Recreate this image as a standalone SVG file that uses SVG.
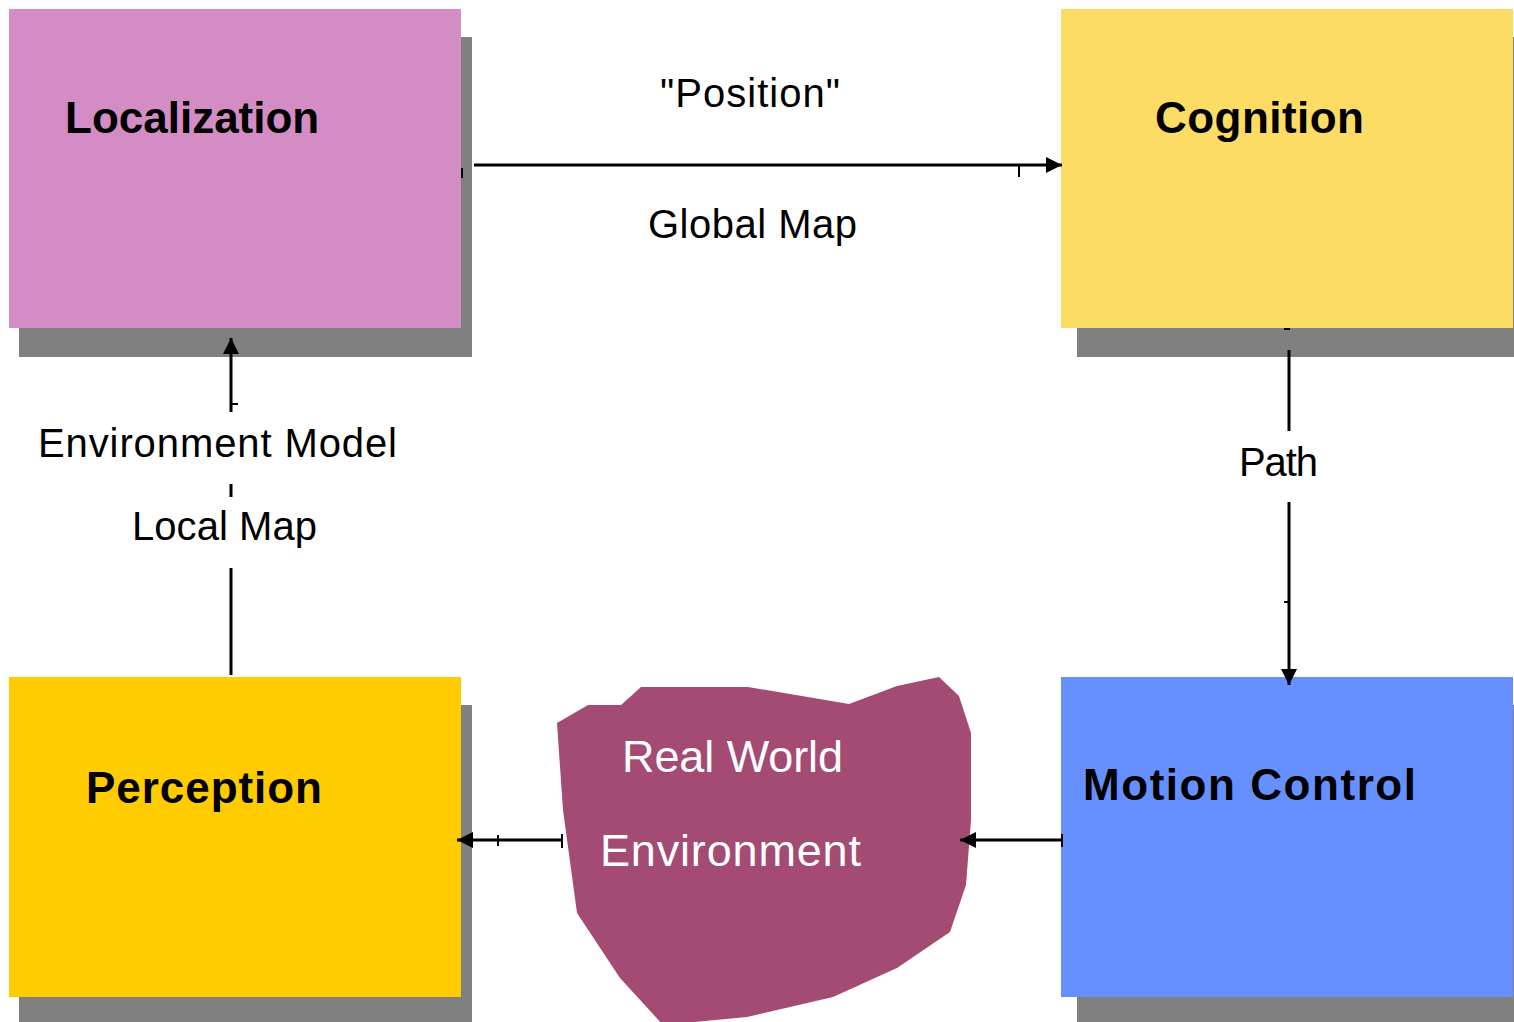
<svg xmlns="http://www.w3.org/2000/svg" width="1514" height="1022" viewBox="0 0 1514 1022">
  <style>
    .shadow { fill: #808080; }
    .title { font-family: "Liberation Sans", Arial, sans-serif; font-weight: bold; font-size: 44px; fill: #000; }
    .label { font-family: "Liberation Sans", Arial, sans-serif; font-size: 40px; fill: #000; }
    .env { font-family: "Liberation Sans", Arial, sans-serif; font-size: 45px; fill: #fff; }
    .wire { stroke: #000; stroke-width: 3; fill: none; }
    .tick { stroke: #000; stroke-width: 2; fill: none; }
  </style>
  <defs>
    <marker id="head" viewBox="0 0 16 16" refX="16" refY="8" markerWidth="16" markerHeight="16" markerUnits="userSpaceOnUse" orient="auto">
      <path d="M0,0 L16,8 L0,16 Z" fill="#000"/>
    </marker>
  </defs>
  <rect width="1514" height="1022" fill="#fff"/>

  <g id="localization">
    <rect class="shadow" x="19" y="37" width="453" height="320"/>
    <rect x="9" y="9" width="452" height="319" fill="#D38DC4"/>
    <text class="title" x="65" y="133">Localization</text>
  </g>

  <g id="cognition">
    <rect class="shadow" x="1077" y="37" width="437" height="320"/>
    <rect x="1061" y="9" width="452" height="319" fill="#FCDC64"/>
    <text class="title" x="1155" y="133" textLength="209">Cognition</text>
  </g>

  <g id="perception">
    <rect class="shadow" x="19" y="705" width="453" height="317"/>
    <rect x="9" y="677" width="452" height="320" fill="#FECC00"/>
    <text class="title" x="86" y="803" textLength="236">Perception</text>
  </g>

  <g id="motion-control">
    <rect class="shadow" x="1077" y="705" width="437" height="317"/>
    <rect x="1061" y="677" width="452" height="320" fill="#6690FF"/>
    <text class="title" x="1083" y="800" textLength="333">Motion Control</text>
  </g>

  <g id="real-world">
    <path d="M557,723 L588,705 L621,705 L641,687 L748,687 L849,704 L897,686 L939,677 L959,696 L971,733 L971,820 L966,885 L950,932 L897,968 L833,997 L747,1017 L663,1025 L620,978 L577,913 L563,810 Z" fill="#A34B72"/>
    <text class="env" x="622" y="772" textLength="221">Real World</text>
    <text class="env" x="600" y="866" textLength="261">Environment</text>
  </g>

  <g id="connectors">
    <!-- Localization to Cognition -->
    <line class="wire" x1="474" y1="165" x2="1062" y2="165" marker-end="url(#head)"/>
    <line class="tick" x1="1019" y1="166" x2="1019" y2="177"/>
    <line class="tick" x1="462" y1="168" x2="462" y2="178"/>
    <text class="label" x="660" y="107" textLength="180">"Position"</text>
    <text class="label" x="648" y="238" textLength="209">Global Map</text>

    <!-- Cognition to Motion Control -->
    <line class="tick" x1="1284" y1="329" x2="1290" y2="329"/>
    <line class="wire" x1="1289" y1="350" x2="1289" y2="431"/>
    <line class="wire" x1="1289" y1="502" x2="1289" y2="685" marker-end="url(#head)"/>
    <line class="tick" x1="1284" y1="602" x2="1289" y2="602"/>
    <text class="label" x="1239" y="476" textLength="79">Path</text>

    <!-- Perception to Localization -->
    <line class="wire" x1="231" y1="675" x2="231" y2="568"/>
    <line class="wire" x1="231" y1="412" x2="231" y2="338" marker-end="url(#head)"/>
    <line class="tick" x1="231" y1="404" x2="238" y2="404"/>
    <line class="wire" x1="231" y1="484" x2="231" y2="497"/>
    <text class="label" x="38" y="457" textLength="359">Environment Model</text>
    <text class="label" x="132" y="540" textLength="185">Local Map</text>

    <!-- Real world to Perception -->
    <line class="wire" x1="562" y1="840" x2="457" y2="840" marker-end="url(#head)"/>
    <line class="tick" x1="498" y1="835" x2="498" y2="846"/>
    <line class="tick" x1="562" y1="834" x2="562" y2="848"/>

    <!-- Motion Control to Real world -->
    <line class="wire" x1="1063" y1="840" x2="960" y2="840" marker-end="url(#head)"/>
    <line class="tick" x1="1062" y1="834" x2="1062" y2="847"/>
  </g>
</svg>
